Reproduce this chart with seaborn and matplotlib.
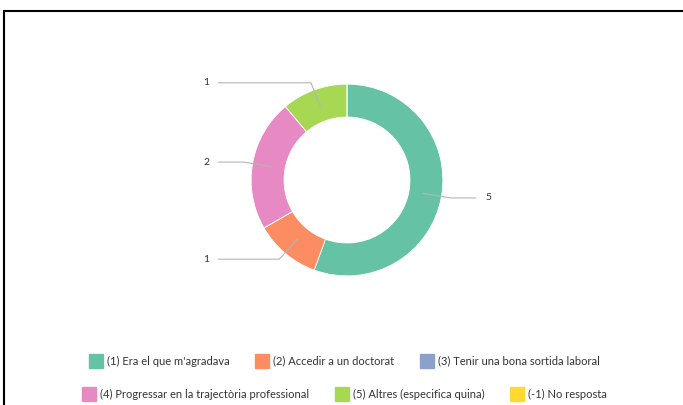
import numpy as np
import seaborn as sns
import matplotlib.pyplot as plt
from matplotlib.lines import Line2D
from matplotlib.patches import Rectangle

categories = ["(1) Era el que m'agradava", "(2) Accedir a un doctorat",
              "(3) Tenir una bona sortida laboral",
              "(4) Progressar en la trajectòria professional",
              "(5) Altres (especifica quina)", "(-1) No resposta"]
counts = [5, 1, 0, 2, 1, 0]

sns.set_theme(style="white")
plt.rcParams['font.family'] = ['Lato', 'DejaVu Sans']
colors = sns.color_palette("Set2", len(categories))

fig = plt.figure(figsize=(6.83, 4.05), dpi=100)
ax = fig.add_axes([159 / 683, 37 / 405, 376 / 683, 376 / 405])

wedges, _ = ax.pie(counts, colors=colors, startangle=90, counterclock=False,
                   radius=1.02, wedgeprops=dict(width=0.35, edgecolor='white', linewidth=0.6))
ax.set_xlim(-2, 2)
ax.set_ylim(-2, 2)
ax.axis('off')

# leader lines and value labels
for w, c in zip(wedges, counts):
    if c == 0:
        continue
    mid = np.deg2rad((w.theta1 + w.theta2) / 2)
    cx, sy = np.cos(mid), np.sin(mid)
    side = 1 if cx > 0 else -1
    p0 = (0.82 * cx, 0.82 * sy)
    p1 = (1.12 * cx, 1.1 * sy)
    p2 = (1.37 * side, 1.1 * sy)
    ax.plot([p0[0], p1[0], p2[0]], [p0[1], p1[1], p2[1]], color='#b5b5b5', lw=0.8)
    ax.text(1.5 * side, 1.1 * sy, str(c), ha='center', va='center',
            fontsize=7.5, color='#333333')

def handle(col):
    return Line2D([], [], marker='s', linestyle='none', markersize=9.5,
                  markerfacecolor=col, markeredgecolor=col)

rows = [(range(0, 3), 1 - 361 / 405), (range(3, 6), 1 - 394 / 405)]
for idx, ypos in rows:
    leg = fig.legend([handle(colors[i]) for i in idx], [categories[i] for i in idx],
                     loc='center', bbox_to_anchor=(0.505, ypos), ncol=3, frameon=False,
                     fontsize=8, handlelength=1.1, handletextpad=0.45, columnspacing=2.4,
                     labelcolor='#333333')

fig.add_artist(Rectangle((4 / 683, -0.1), 1.1, 1.1 - 11 / 405, transform=fig.transFigure,
                         fill=False, edgecolor='black', lw=1.5))

fig.savefig('out.png', dpi=100)
